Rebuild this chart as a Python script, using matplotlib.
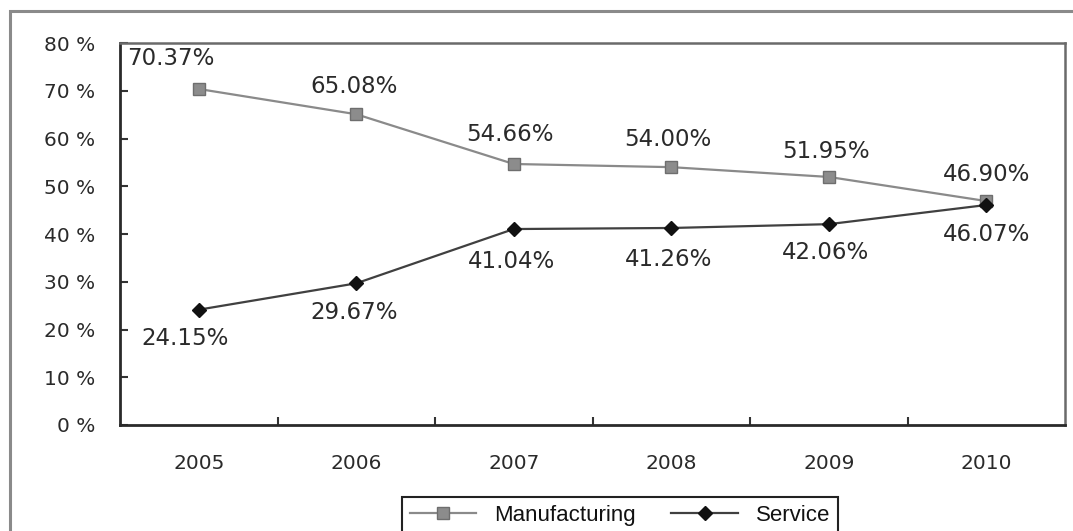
import matplotlib
matplotlib.use("Agg")
import matplotlib.pyplot as plt
from matplotlib.patches import Rectangle

years = ["2005", "2006", "2007", "2008", "2009", "2010"]
manufacturing = [70.37, 65.08, 54.66, 54.00, 51.95, 46.90]
service = [24.15, 29.67, 41.04, 41.26, 42.06, 46.07]
manu_labels = ["70.37%", "65.08%", "54.66%", "54.00%", "51.95%", "46.90%"]
serv_labels = ["24.15%", "29.67%", "41.04%", "41.26%", "42.06%", "46.07%"]
y_ticks = [0, 10, 20, 30, 40, 50, 60, 70, 80]
y_ticklabels = ["0 %", "10 %", "20 %", "30 %", "40 %", "50 %", "60 %", "70 %", "80 %"]

W, H = 1073, 531
fig = plt.figure(figsize=(W / 100, H / 100), dpi=100)
fig.patch.set_facecolor("white")

# outer frame
fig.add_artist(Rectangle((10 / W, -0.2), 1.2, 1.2 - 11 / H, transform=fig.transFigure,
                         fill=False, edgecolor="#8a8a8a", linewidth=2.2))

ax = fig.add_axes([120 / W, 1 - 425 / H, (1065 - 120) / W, (425 - 43) / H])
x = list(range(len(years)))

ax.plot(x, manufacturing, color="#8a8a8a", linewidth=1.6, marker="s", markersize=9,
        markerfacecolor="#8c8c8c", markeredgecolor="#6e6e6e", label="Manufacturing", zorder=3)
ax.plot(x, service, color="#404040", linewidth=1.6, marker="D", markersize=7,
        markerfacecolor="#111111", markeredgecolor="#111111", label="Service", zorder=3)

# label offsets in pixels (dx, dy) relative to points
manu_off = [(-28, 30), (-2, 28), (-4, 29), (-3, 28), (-3, 25), (0, 27)]
serv_off = [(-14, -29), (-2, -29), (-2, -32), (-3, -32), (-3, -28), (0, -29)]
lab_font = 16.5
for i in x:
    dx, dy = manu_off[i]
    ax.annotate(manu_labels[i], (i, manufacturing[i]), xytext=(dx * 0.72, dy * 0.72),
                textcoords="offset points", ha="center", va="center",
                fontsize=lab_font, color="#2a2a2a")
    dx, dy = serv_off[i]
    ax.annotate(serv_labels[i], (i, service[i]), xytext=(dx * 0.72, dy * 0.72),
                textcoords="offset points", ha="center", va="center",
                fontsize=lab_font, color="#2a2a2a")

ax.set_xlim(-0.5, len(years) - 0.5)
ax.set_ylim(0, 80)
ax.set_yticks(y_ticks)
ax.set_yticklabels(y_ticklabels)
ax.set_xticks(x)
ax.set_xticklabels(years)
ax.set_xticks([i + 0.5 for i in x[:-1]], minor=True)
ax.tick_params(axis="x", which="major", length=0, pad=21, labelsize=14.5, labelcolor="#2a2a2a")
ax.tick_params(axis="x", which="minor", direction="in", length=6, width=1.5, color="#333333")
ax.tick_params(axis="y", direction="in", length=6, width=1.5, color="#333333", pad=18,
               labelsize=14.5, labelcolor="#2a2a2a")

for side in ["left", "bottom"]:
    ax.spines[side].set_color("#2a2a2a")
    ax.spines[side].set_linewidth(2)
for side in ["top", "right"]:
    ax.spines[side].set_color("#6a6a6a")
    ax.spines[side].set_linewidth(1.8)

leg = fig.legend(loc="upper center", bbox_to_anchor=(620 / W, 1 - 497 / H), ncol=2,
                 frameon=True, fancybox=False, edgecolor="#222222", framealpha=1,
                 prop={"family": "Liberation Sans", "size": 16}, handlelength=3.0,
                 columnspacing=1.6, borderpad=0.35, handletextpad=0.8, borderaxespad=0)
leg.get_frame().set_linewidth(1.5)
for t in leg.get_texts():
    t.set_color("#111111")

fig.savefig("out.png", dpi=100)
